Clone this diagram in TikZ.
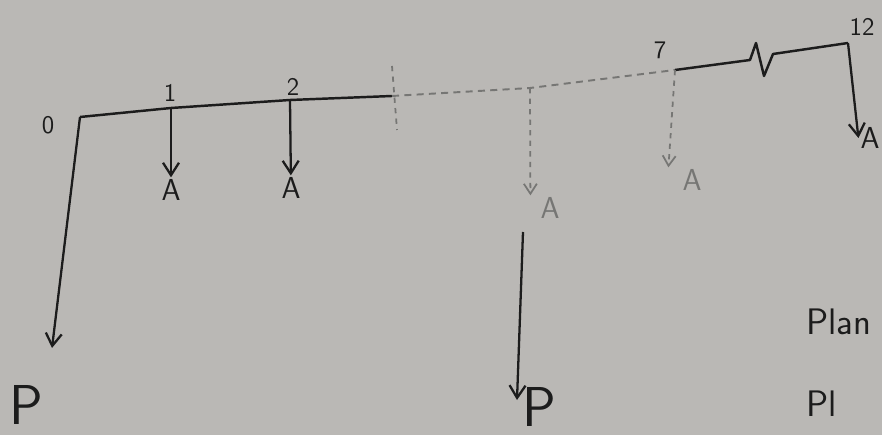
\documentclass[tikz,border=0pt]{standalone}
\usepackage{tikz}
\usetikzlibrary{arrows.meta, positioning, calc}
\definecolor{paper}{RGB}{186,184,181}
\definecolor{pen}{RGB}{28,28,28}
\definecolor{faded}{RGB}{118,118,116}
\tikzstyle{beam} = [pen, line width=1.4pt, line join=round]
\tikzstyle{fadebeam} = [faded, line width=1.1pt, dash pattern=on 4pt off 3pt]
\tikzstyle{arrow} = [pen, line width=1.3pt, -{Straight Barb[length=2.5mm,width=3.2mm]}]
\tikzstyle{fadearrow} = [faded, line width=1pt, dash pattern=on 3pt off 3pt, -{Straight Barb[length=2mm,width=2.6mm]}]
\tikzstyle{tick} = [pen, font=\sffamily\Large, inner sep=1pt]
\tikzstyle{load} = [pen, font=\sffamily\LARGE, inner sep=1pt]
\tikzstyle{fadeload} = [faded, font=\sffamily\LARGE, inner sep=1pt]
\tikzstyle{bigload} = [pen, font=\sffamily\fontsize{32}{32}\selectfont, inner sep=0pt]
\tikzstyle{note} = [pen, font=\sffamily\fontsize{21}{21}\selectfont, inner sep=0pt]

\begin{document}
\begin{tikzpicture}[x=0.02cm, y=-0.02cm]
\fill[paper] (0,0) rectangle (882,435);
\useasboundingbox (0,0) rectangle (882,435);

% points on the time line
\coordinate (t0) at (80,117);
\coordinate (t1) at (171,108);
\coordinate (t2) at (290,100);
\coordinate (t3) at (392,96);
\coordinate (t5) at (530,88);
\coordinate (t7) at (675,70);
\coordinate (z0) at (750,60);
\coordinate (z1) at (756,43);
\coordinate (z2) at (764,76);
\coordinate (z3) at (773,54);
\coordinate (t12) at (848,43);

% time line
\draw[beam] (t0) -- (t1) -- (t2) -- (t3);
\draw[fadebeam] (t3) -- (t5) -- (t7);
\draw[beam] (t7) -- (z0) -- (z1) -- (z2) -- (z3) -- (t12);

% period numbers
\node[tick] (n0) at (48,125) {0};
\node[tick] (n1) at (170,93) {1};
\node[tick] (n2) at (293,87) {2};
\node[tick] (n7) at (660,50) {7};
\node[tick] (n12) at (862,27) {12};
\draw[faded, line width=1pt, dash pattern=on 3pt off 3pt] (392,66) -- (397,130);

% annuity payments
\node[load] (a1) at (171,190) {A};
\node[load] (a2) at (291,188) {A};
\node[fadeload] (a5) at (550,208) {A};
\node[fadeload] (a7) at (692,180) {A};
\node[load] (a12) at (870,138) {A};
\draw[arrow] (t1) -- (a1);
\draw[arrow] (t2) -- (a2);
\draw[fadearrow] (t5) -- ($(a5.north west)+(-8,0)$);
\draw[fadearrow] (t7) -- ($(a7.north west)+(-12,0)$);
\draw[arrow] (t12) -- (a12.west);

% principal
\coordinate (p0end) at (52,348);
\coordinate (p5top) at (523,232);
\coordinate (p5end) at (517,400);
\node[bigload] (p0) at (26,405) {P};
\node[bigload] (p5) at (539,407) {P};
\draw[arrow] (t0) -- (p0end);
\draw[arrow] (p5top) -- (p5end);

% side notes
\node[note, anchor=west] (plan) at (806,322) {Plan};
\node[note, anchor=west] (pl) at (806,404) {Pl};
\end{tikzpicture}
\end{document}
